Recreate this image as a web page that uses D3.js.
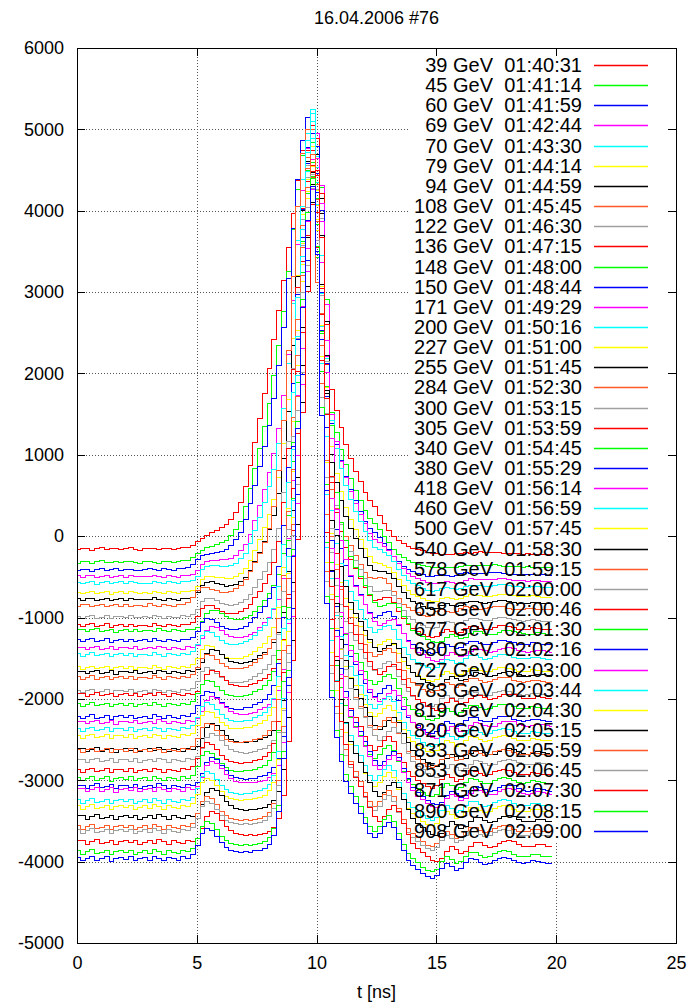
<!DOCTYPE html>
<html lang="en">
<head>
  <meta charset="UTF-8">
  <title>16.04.2006 #76</title>
  <style>
    body { margin: 0; background: #fff; }
    text { font-family: "Liberation Sans", Arial, sans-serif; fill: #000; }
  </style>
</head>
<body>
  <svg width="690" height="1007"></svg>
  <script src="https://cdn.jsdelivr.net/npm/d3@7"></script>
  <script>
    // runs of the scan: beam energy and start time
    var energies = [39, 45, 60, 69, 70, 79, 94, 108, 122, 136, 148, 150, 171, 200, 227, 255, 284, 300, 305,
      340, 380, 418, 460, 500, 540, 578, 617, 658, 677, 680, 727, 783, 819, 820, 833, 853, 871, 890, 908]
    var startTimes = ['01:40:31', '01:41:14', '01:41:59', '01:42:44', '01:43:30', '01:44:14', '01:44:59',
      '01:45:45', '01:46:30', '01:47:15', '01:48:00', '01:48:44', '01:49:29', '01:50:16', '01:51:00',
      '01:51:45', '01:52:30', '01:53:15', '01:53:59', '01:54:45', '01:55:29', '01:56:14', '01:56:59',
      '01:57:45', '01:58:30', '01:59:15', '02:00:00', '02:00:46', '02:01:30', '02:02:16', '02:03:00',
      '02:03:44', '02:04:30', '02:05:15', '02:05:59', '02:06:45', '02:07:30', '02:08:15', '02:09:00']

    // per-run pedestal, maximum, peak offset (in 0.2 ns samples) and width mix
    var baselines = [-150, -313, -407, -489, -567, -690, -772, -846, -989, -1091, -1153, -1276, -1370, -1452,
      -1612, -1665, -1736, -1901, -1943, -2066, -2218, -2280, -2370, -2456, -2620, -2628, -2751, -2874,
      -2976, -3070, -3111, -3251, -3324, -3447, -3570, -3620, -3755, -3878, -3959]
    var peaks = [5000, 4950, 5150, 5050, 5250, 4800, 4900, 5000, 4850, 5050, 4900, 5100, 4950, 5200, 4700,
      4800, 5000, 4750, 4900, 4850, 4950, 4800, 5100, 4600, 4700, 4900, 4650, 4750, 4600, 4800, 4650,
      4900, 4550, 4500, 4700, 4450, 4500, 4400, 4300]
    var peakShift = [-1, -1, -1, 0, 0, 0, 0, -1, 0, 0, 1, 0, 1, 0, 0, 1, 0, 0, 1, 0, 0, 1, 0, 0, 1, 0, 1,
      0, 0, 1, 1, 0, 0, 1, 0, 0, 1, 0, 0]
    var wideMix = [1, 0.85, 0.72, 0.6, 0.52, 0.44, 0.37, 0.32, 0.27, 0.23, 0.2, 0.17, 0.15, 0.13, 0.11, 0.1,
      0.09, 0.08, 0.07, 0.06, 0.05, 0.05, 0.04, 0.04, 0.03, 0.03, 0.03, 0.02, 0.02, 0.02, 0.01, 0.01, 0.01,
      0.01, 0, 0, 0, 0, 0]

    // normalised pulse shapes, one sample every 0.2 ns from 0 to 19.8 ns
    // broad one, narrow one from the 908 GeV trace
    var wideShape = [
      0.001, -0.002, 0.002, 0, -0.003, 0.001, 0.003, -0.001, 0, 0.002, -0.002, 0.001,
      0.003, -0.001, -0.003, 0.001, 0.002, 0, -0.002, 0.002, 0.001, -0.001, 0.002, 0.003,
      0.004, 0.008, 0.018, 0.025, 0.032, 0.038, 0.045, 0.05, 0.058, 0.07, 0.088, 0.11,
      0.15, 0.2, 0.255, 0.31, 0.37, 0.43, 0.5, 0.57, 0.64, 0.72, 0.8, 0.88, 0.95, 1.0,
      0.9, 0.72, 0.56, 0.44, 0.38, 0.33, 0.29, 0.25, 0.215, 0.185, 0.16, 0.135, 0.115, 0.1,
      0.08, 0.06, 0.045, 0.03, 0.02, 0.012, 0.006, 0.002, -0.002, -0.005, -0.008, -0.01,
      -0.012, -0.013, -0.014, -0.013, -0.012, -0.01, -0.009, -0.01, -0.008, -0.007, -0.008,
      -0.009, -0.008, -0.009, -0.011, -0.012, -0.011, -0.012, -0.013, -0.012, -0.013, -0.014,
      -0.013, -0.014]
    var narrowShape = [
      0.002, -0.003, 0.001, 0.004, -0.002, 0, 0.003, -0.004, 0.001, 0.002, -0.001, 0.003,
      -0.003, 0, 0.002, -0.002, 0.004, 0.001, -0.003, 0.002, 0, -0.002, 0.003, 0.001,
      0.006, 0.02, 0.038, 0.045, 0.042, 0.033, 0.024, 0.017, 0.013, 0.011, 0.01, 0.011,
      0.01, 0.012, 0.013, 0.016, 0.022, 0.035, 0.07, 0.15, 0.27, 0.45, 0.64, 0.82, 0.95, 1.0,
      0.9, 0.66, 0.38, 0.24, 0.18, 0.145, 0.115, 0.097, 0.083, 0.068, 0.052, 0.038, 0.031, 0.038,
      0.048, 0.054, 0.046, 0.028, 0.012, -0.002, -0.01, -0.016, -0.022, -0.027, -0.029, -0.025,
      -0.014, -0.007, -0.011, -0.017, -0.014, -0.006, 0, -0.001, -0.005, -0.008, -0.007,
      -0.002, 0.001, 0.002, 0.001, -0.003, -0.006, -0.007, -0.006, -0.003, -0.004, -0.006,
      -0.007, -0.007]
    var sampleStep = 0.2

    var xTicks = [0, 5, 10, 15, 20, 25]
    var yTicks = [-5000, -4000, -3000, -2000, -1000, 0, 1000, 2000, 3000, 4000, 5000, 6000]
    var colors = ['#ff0000', '#00ff00', '#0000ff', '#ff00ff', '#00ffff', '#ffff00', '#000000', '#ff5a28', '#a0a0a0']

    var svg = d3.select('svg')
    var plotLeft = 77, plotRight = 676, plotTop = 48, plotBottom = 943
    var fontSize = 18, keyFontSize = 20

    var x = d3.scaleLinear().domain([0, 25]).range([plotLeft, plotRight])
    var y = d3.scaleLinear().domain([-5000, 6000]).range([plotBottom, plotTop])

    // snap 1px lines onto pixel centres
    function px(v) { return Math.round(v) + 0.5 }

    // key box, grid is not drawn behind it
    var keyLeft = 408, keyTop = 52, keyBottom = 842

    var series = energies.map(function(e, i) {
      var amp = peaks[i] - baselines[i]
      var n = narrowShape.length
      var values = narrowShape.map(function(s, k) {
        var j = Math.max(0, Math.min(n - 1, k - peakShift[i]))
        var shape = wideMix[i] * wideShape[j] + (1 - wideMix[i]) * narrowShape[j]
        return { t: k * sampleStep, v: baselines[i] + amp * shape }
      })
      return {
        label: e + ' GeV  ' + startTimes[i],
        color: colors[i % colors.length],
        values: values
      }
    })

    // title
    svg.append('text')
      .attr('x', (plotLeft + plotRight) / 2)
      .attr('y', 24)
      .attr('text-anchor', 'middle')
      .style('font-size', fontSize + 'px')
      .text('16.04.2006 #76')

    // grid
    var grid = svg.append('g')
      .attr('stroke', '#555')
      .attr('stroke-dasharray', '1,2')
      .attr('shape-rendering', 'crispEdges')

    grid.selectAll('.vgrid')
      .data(xTicks.slice(1, -1))
      .enter()
      .append('line')
      .attr('x1', function(d) { return px(x(d)) })
      .attr('x2', function(d) { return px(x(d)) })
      .attr('y1', plotTop)
      .attr('y2', plotBottom)

    grid.selectAll('.hgrid')
      .data(yTicks.slice(1, -1))
      .enter()
      .append('line')
      .attr('x1', plotLeft)
      .attr('x2', plotRight)
      .attr('y1', function(d) { return px(y(d)) })
      .attr('y2', function(d) { return px(y(d)) })

    svg.append('rect')
      .attr('x', keyLeft)
      .attr('y', keyTop)
      .attr('width', plotRight - keyLeft - 1)
      .attr('height', keyBottom - keyTop)
      .attr('fill', '#fff')

    // traces
    var line = d3.line()
      .x(function(d) { return px(x(d.t)) })
      .y(function(d) { return px(y(d.v)) })
      .curve(d3.curveStep)

    svg.append('g')
      .selectAll('path')
      .data(series)
      .enter()
      .append('path')
      .attr('d', function(d) { return line(d.values) })
      .attr('fill', 'none')
      .attr('stroke', function(d) { return d.color })
      .attr('stroke-width', 1)
      .attr('shape-rendering', 'crispEdges')

    // key
    var rowStep = 20.15
    var key = svg.append('g')
    var rows = key.selectAll('g')
      .data(series)
      .enter()
      .append('g')
      .attr('transform', function(d, i) { return 'translate(0,' + Math.round(65 + i * rowStep) + ')' })

    rows.append('text')
      .attr('x', 582)
      .attr('dy', '0.36em')
      .attr('text-anchor', 'end')
      .style('font-size', keyFontSize + 'px')
      .style('white-space', 'pre')
      .text(function(d) { return d.label })

    rows.append('line')
      .attr('x1', 594)
      .attr('x2', 648)
      .attr('y1', 0.5)
      .attr('y2', 0.5)
      .attr('stroke', function(d) { return d.color })
      .attr('stroke-width', 1.6)

    // axes, ticks pointing inward and mirrored
    var tickLen = 8
    var label = function(d) { return String(d) }
    svg.append('g')
      .attr('transform', 'translate(0,' + plotBottom + ')')
      .call(d3.axisBottom(x).tickValues(xTicks).tickFormat(label)
        .tickSizeInner(-tickLen).tickSizeOuter(0).tickPadding(13))
    svg.append('g')
      .attr('transform', 'translate(' + plotLeft + ',0)')
      .call(d3.axisLeft(y).tickValues(yTicks).tickFormat(label)
        .tickSizeInner(-tickLen).tickSizeOuter(0).tickPadding(13))
    svg.append('g')
      .attr('transform', 'translate(0,' + plotTop + ')')
      .call(d3.axisTop(x).tickValues(xTicks).tickSizeInner(-tickLen).tickSizeOuter(0).tickFormat(''))
    svg.append('g')
      .attr('transform', 'translate(' + plotRight + ',0)')
      .call(d3.axisRight(y).tickValues(yTicks).tickSizeInner(-tickLen).tickSizeOuter(0).tickFormat(''))

    svg.selectAll('.domain').remove()
    svg.selectAll('.tick line').attr('shape-rendering', 'crispEdges')
    svg.selectAll('.tick text')
      .style('font-size', fontSize + 'px')
      .style('font-family', '"Liberation Sans", Arial, sans-serif')

    svg.append('rect')
      .attr('x', plotLeft + 0.5)
      .attr('y', plotTop + 0.5)
      .attr('width', plotRight - plotLeft)
      .attr('height', plotBottom - plotTop)
      .attr('fill', 'none')
      .attr('stroke', '#000')
      .attr('shape-rendering', 'crispEdges')

    svg.append('text')
      .attr('x', (plotLeft + plotRight) / 2)
      .attr('y', 998)
      .attr('text-anchor', 'middle')
      .style('font-size', fontSize + 'px')
      .text('t [ns]')
  </script>
</body>
</html>
